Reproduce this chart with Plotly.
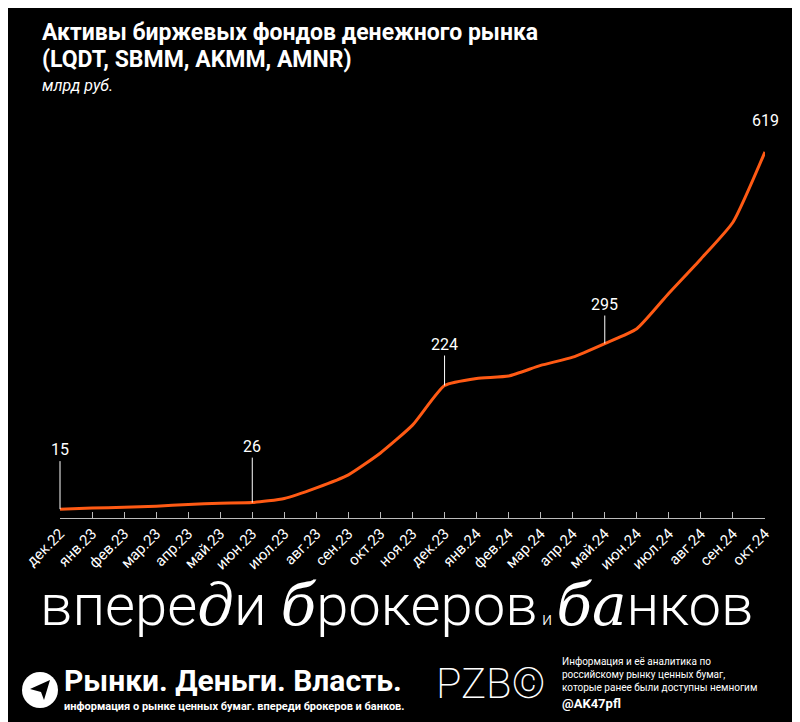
import plotly.graph_objects as go

months = ["дек.22","янв.23","фев.23","мар.23","апр.23","май.23","июн.23","июл.23","авг.23","сен.23","окт.23","ноя.23",
          "дек.23","янв.24","фев.24","мар.24","апр.24","май.24","июн.24","июл.24","авг.24","сен.24","окт.24"]
values = [15,17,18,20,23,25,26,33,51,73,110,157,224,236,240,258,272,295,320,380,438,500,619]
labeled = {0: -48, 6: -45, 12: -30, 17: -28, 22: -20}

ORANGE = "#ff5a14"
F = "Roboto"
OFF = 8  # page body margin
W, H = 800 - OFF, 722 - OFF
L, R, T, B = 60 - OFF, 43 - OFF, 130 - OFF, 204
pw, ph = W - L - R, H - T - B

x = list(range(len(months)))
fig = go.Figure(go.Scatter(x=x, y=values, mode="lines", line=dict(color=ORANGE, width=3, shape="spline", smoothing=0.5),
                           hoverinfo="skip"))

for i, ay in labeled.items():
    fig.add_annotation(x=i, y=values[i], text=str(values[i]), showarrow=True, arrowhead=0, arrowwidth=1,
                       arrowcolor="white" if i != 22 else "rgba(0,0,0,0)", ax=0, ay=ay, yanchor="bottom",
                       font=dict(color="white", size=16, family=F), xref="x", yref="y")

annots = [
    dict(x=40, y=32, text="<b>Активы биржевых фондов денежного рынка</b>", size=23),
    dict(x=40, y=60, text="<b>(LQDT, SBMM, AKMM, AMNR)</b>", size=23),
    dict(x=40, y=86, text="<i>млрд руб.</i>", size=16),
    dict(x=62, y=680, text="<b>Рынки. Деньги. Власть.</b>", size=30),
    dict(x=62, y=706, text="<b>информация о рынке ценных бумаг. впереди брокеров и банков.</b>", size=11),
    dict(x=560, y=674, text="Информация и её аналитика по<br>российскому рынку ценных бумаг,<br>которые ранее были доступны немногим", size=10),
    dict(x=560, y=703, text="<b>@AK47pfl</b>", size=13),
    dict(x=434, y=683, text="PZB©", size=42, weight=200),
    dict(x=38, y=605, text='впере<span style="font-family:DejaVu Serif"><i>д</i></span>и <span style="font-family:DejaVu Serif"><i>б</i></span>рокеров<span style="font-size:18px"> и </span><span style="font-family:DejaVu Serif"><i>ба</i></span>нков', size=58, weight=300),
]
for a in annots:
    fig.add_annotation(x=(a["x"] - OFF - L) / pw, y=1 - (a["y"] - OFF - T) / ph, xref="paper", yref="paper",
                       text=a["text"], showarrow=False, xanchor="left", yanchor="middle", align="left",
                       font=dict(color="white", size=a["size"], family=F, weight=a.get("weight", 400)))

def px2paper(px, py):
    return (px - OFF - L) / pw, 1 - (py - OFF - T) / ph
cx, cy, r = 40, 690, 18
x0, y0 = px2paper(cx - r, cy + r)
x1, y1 = px2paper(cx + r, cy - r)
fig.add_shape(type="circle", xref="paper", yref="paper", x0=x0, x1=x1, y0=y0, y1=y1, fillcolor="white", line=dict(width=0))
pts = [(30, 689), (50, 680), (44, 700), (41, 692)]
path = "M " + " L ".join("{},{}".format(*px2paper(a, b)) for a, b in pts) + " Z"
fig.add_shape(type="path", xref="paper", yref="paper", path=path, fillcolor="black", line=dict(width=0))

fig.update_layout(
    width=W, height=H, autosize=False, paper_bgcolor="black", plot_bgcolor="black",
    margin=dict(l=L, r=R, t=T, b=B), showlegend=False,
    xaxis=dict(range=[0, 22], tickvals=x, ticktext=months, tickangle=-45, showgrid=False, zeroline=False,
               showline=True, linecolor="#bbbbbb", linewidth=1, ticks="inside", ticklen=6, tickcolor="#bbbbbb",
               tickfont=dict(color="white", size=15, family=F)),
    yaxis=dict(range=[0, 656], visible=False),
)
fig.write_html("out.html")
